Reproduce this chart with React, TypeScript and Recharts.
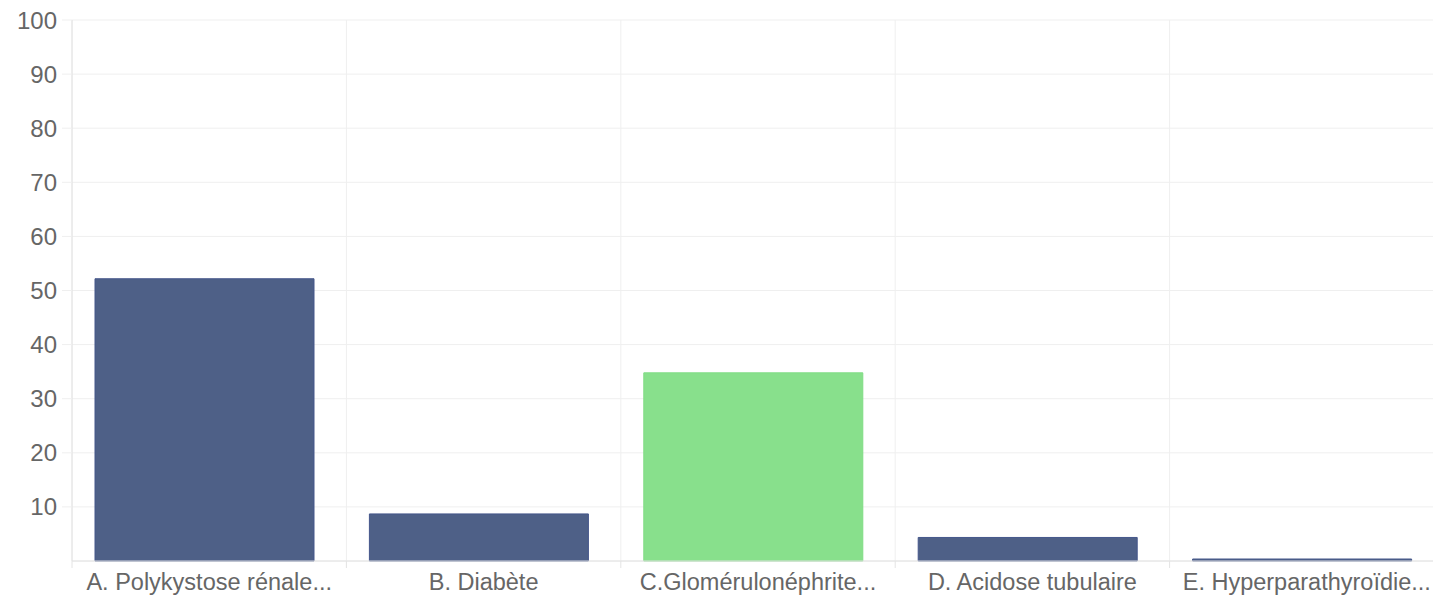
import React from "react";
import { BarChart, Bar, XAxis, YAxis, CartesianGrid, Cell } from "recharts";

const categories = [
  "A. Polykystose rénale...",
  "B. Diabète",
  "C.Glomérulonéphrite...",
  "D. Acidose tubulaire",
  "E. Hyperparathyroïdie...",
];
const values = [52.17, 8.7, 34.78, 4.35, 0];
const highlighted = [false, false, true, false, false];
const yTicks = [10, 20, 30, 40, 50, 60, 70, 80, 90, 100];

const data = categories.map((name, i) => ({ name, value: values[i], hl: highlighted[i] }));

const BLUE = "#4e6087";
const BLUE_BORDER = "#44568a";
const GREEN = "#88e08c";
const GREEN_BORDER = "#7fdc84";
const TEXT = "#666666";
const FONT = "'Liberation Sans', Arial, Helvetica, sans-serif";
const X_TICK_SIZE = 7;
const X_TICK_MARGIN = 5;

const XTick = (props: any) => {
  const { x, y, payload, index, visibleTicksCount } = props;
  const half = payload && typeof payload.offset === "number" ? payload.offset : 0;
  const axisY = y - X_TICK_SIZE - X_TICK_MARGIN;
  return (
    <g>
      <line x1={x - half} x2={x - half} y1={axisY} y2={axisY + X_TICK_SIZE} stroke="#e4e4e4" />
      {index === visibleTicksCount - 1 ? (
        <line x1={x + half} x2={x + half} y1={axisY} y2={axisY + X_TICK_SIZE} stroke="#e4e4e4" />
      ) : null}
      <text x={x} y={y} dy="0.71em" textAnchor="middle" fill={TEXT} fontSize={23.5} fontFamily={FONT}>
        {payload.value}
      </text>
    </g>
  );
};

export default function App() {
  return (
    <div style={{ position: "absolute", left: 0, top: 0, width: 1433, height: 597, overflow: "hidden", background: "#fff" }}>
      <BarChart
        width={1444}
        height={597}
        data={data}
        margin={{ top: 20, right: 0, bottom: 0, left: 0 }}
        barGap={8}
      >
        <CartesianGrid
          stroke="#efefef"
          horizontal={true}
          vertical={true}
          verticalCoordinatesGenerator={({ offset }: any) =>
            categories.map((_, i) => offset.left + (i * offset.width) / categories.length).concat([offset.left + offset.width])
          }
        />
        <XAxis
          dataKey="name"
          interval={0}
          height={36}
          tickSize={X_TICK_SIZE}
          tickMargin={X_TICK_MARGIN}
          tickLine={false}
          axisLine={{ stroke: "#e2e2e2" }}
          tick={<XTick />}
        />
        <YAxis
          width={72}
          domain={[0, 100]}
          ticks={yTicks}
          interval={0}
          tickSize={10}
          tickMargin={5}
          tickLine={{ stroke: "#efefef" }}
          axisLine={{ stroke: "#e2e2e2" }}
          tick={{ fill: TEXT, fontSize: 24, fontFamily: FONT }}
        />
        <Bar dataKey="value" barSize={219} isAnimationActive={false} minPointSize={2} strokeWidth={1}>
          {data.map((d, i) => (
            <Cell key={i} fill={d.hl ? GREEN : BLUE} stroke={d.hl ? GREEN_BORDER : BLUE_BORDER} />
          ))}
        </Bar>
        <Bar dataKey="spacer" barSize={1} fill="transparent" isAnimationActive={false} />
      </BarChart>
    </div>
  );
}
